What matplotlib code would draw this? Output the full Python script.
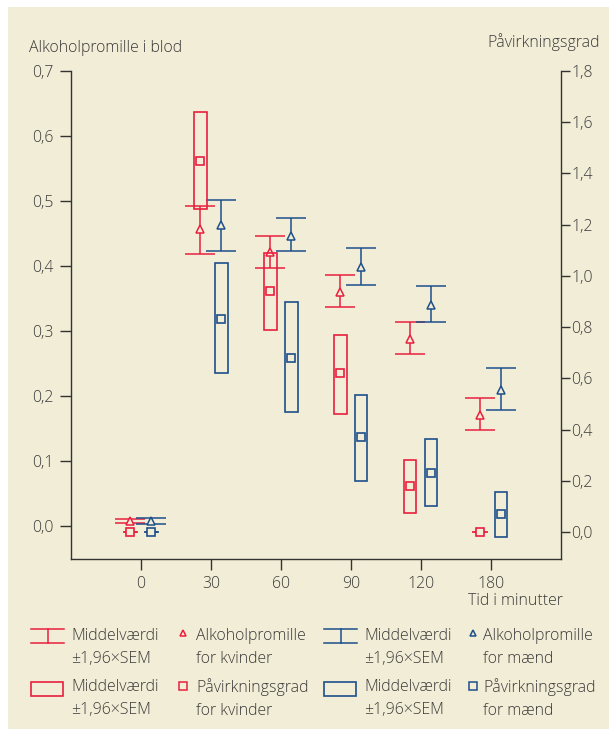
import matplotlib
matplotlib.use("Agg")
import numpy as np
from matplotlib import pyplot as plt
from matplotlib.patches import Rectangle

plt.rcParams['font.family'] = ['Open Sans', 'DejaVu Sans']
plt.rcParams['font.weight'] = 'light'

### data
tider = ["0", "30", "60", "90", "120", "180"]

# alkoholpromille i blod (venstre akse)
prom_kv = [0.008, 0.457, 0.422, 0.360, 0.288, 0.172]
prom_kv_lo = [0.005, 0.419, 0.398, 0.338, 0.265, 0.148]
prom_kv_hi = [0.012, 0.492, 0.446, 0.386, 0.314, 0.198]
prom_m = [0.008, 0.463, 0.446, 0.399, 0.340, 0.210]
prom_m_lo = [0.004, 0.424, 0.423, 0.371, 0.314, 0.179]
prom_m_hi = [0.013, 0.502, 0.474, 0.428, 0.370, 0.243]

# påvirkningsgrad (højre akse)
paav_kv = [0.0, 1.45, 0.94, 0.62, 0.18, 0.0]
paav_kv_lo = [0.0, 1.26, 0.79, 0.46, 0.075, 0.0]
paav_kv_hi = [0.0, 1.64, 1.09, 0.77, 0.28, 0.0]
paav_m = [0.0, 0.83, 0.68, 0.37, 0.23, 0.07]
paav_m_lo = [0.0, 0.62, 0.47, 0.20, 0.10, -0.02]
paav_m_hi = [0.0, 1.05, 0.90, 0.535, 0.365, 0.157]

venstre_ticks = [0.0, 0.1, 0.2, 0.3, 0.4, 0.5, 0.6, 0.7]
hoejre_ticks = [0.0, 0.2, 0.4, 0.6, 0.8, 1.0, 1.2, 1.4, 1.6, 1.8]

bg = "#f2edd6"
rod = "#e8203f"
blaa = "#1d4f8b"
tekst = "#3a3a3a"
fs = 11.4

W, H = 609, 729
fig = plt.figure(figsize=(W / 100, H / 100), dpi=100)
fig.patch.set_facecolor("white")

# baggrund + legende i pixel-koordinater
bax = fig.add_axes([0, 0, 1, 1])
bax.set_zorder(-1)
bax.set_xlim(0, W)
bax.set_ylim(H, 0)
bax.axis("off")
bax.add_patch(Rectangle((8, 7), W - 8, H - 7, facecolor=bg, edgecolor="none"))

ax1 = fig.add_axes([71 / W, 1 - 559 / H, (560.5 - 71) / W, (559 - 71) / H])
ax1.patch.set_visible(False)
ax2 = ax1.twinx()

x = np.arange(len(tider))
dx = 0.15
bw = 0.18

def err(m, lo, hi):
    m = np.array(m); lo = np.array(lo); hi = np.array(hi)
    return [m - lo, hi - m]

for off, m, lo, hi, c in [(-dx, prom_kv, prom_kv_lo, prom_kv_hi, rod),
                          (dx, prom_m, prom_m_lo, prom_m_hi, blaa)]:
    ax1.errorbar(x + off, m, yerr=err(m, lo, hi), fmt="^", ms=6.2, mfc=bg, mec=c,
                 mew=1.1, ecolor=c, elinewidth=1.1, capsize=10.5, capthick=1.1)

for off, m, lo, hi, c in [(-dx, paav_kv, paav_kv_lo, paav_kv_hi, rod),
                          (dx, paav_m, paav_m_lo, paav_m_hi, blaa)]:
    lo = np.array(lo); hi = np.array(hi)
    ax2.bar(x + off, hi - lo, bottom=lo, width=bw,
            fill=False, edgecolor=c, linewidth=1.2)
    # kasser uden højde tegnes som en streg
    flad = hi == lo
    ax2.hlines(lo[flad], x[flad] + off - 0.11, x[flad] + off + 0.11, color=c, lw=1.2)
    ax2.plot(x + off, m, "s", ms=6.3, mfc=bg, mec=c, mew=1.2, ls="none")

ax1.set_xlim(-1, 6)
ax1.set_ylim(-0.05, 0.7)
ax2.set_ylim(-0.105, 1.8)

ax1.set_xticks(x)
ax1.set_xticklabels(tider)
ax1.set_yticks(venstre_ticks)
ax1.set_yticklabels([f"{v:.1f}".replace(".", ",") for v in venstre_ticks])
ax2.set_yticks(hoejre_ticks)
ax2.set_yticklabels([f"{v:.1f}".replace(".", ",") for v in hoejre_ticks])

for a in (ax1, ax2):
    for s in a.spines.values():
        s.set_color("#333333")
        s.set_linewidth(1.0)
    a.spines["top"].set_visible(False)
    a.tick_params(colors="#333333", labelcolor=tekst, labelsize=fs, width=1.0)
ax1.tick_params(axis="y", length=8, pad=4.5)
ax1.tick_params(axis="x", length=8, pad=4)
ax2.tick_params(axis="y", length=6.5, pad=1.5)
ax1.spines["right"].set_visible(False)
ax2.spines["left"].set_visible(False)
ax2.spines["bottom"].set_visible(False)

# aksetitler
bax.text(29, 48, "Alkoholpromille i blod", fontsize=fs, color=tekst, ha="left", va="center")
bax.text(600, 42, "Påvirkningsgrad", fontsize=fs, color=tekst, ha="right", va="center")
bax.text(515, 601, "Tid i minutter", fontsize=fs, color=tekst, ha="center", va="center")

# legende
mid = "Middelværdi\n±1,96×SEM"
for c, x0, xt, xm, xmt, lbl1, lbl2 in [
        (rod, 31, 71, 182.5, 196, "Alkoholpromille\nfor kvinder", "Påvirkningsgrad\nfor kvinder"),
        (blaa, 324, 364, 473, 483, "Alkoholpromille\nfor mænd", "Påvirkningsgrad\nfor mænd")]:
    x1 = x0 + 33
    xc = (x0 + x1) / 2
    bax.plot([x0, x1], [629, 629], color=c, lw=1.1)
    bax.plot([x0, x1], [643, 643], color=c, lw=1.1)
    bax.plot([xc, xc], [629, 643], color=c, lw=1.1)
    bax.add_patch(Rectangle((x0, 682), 32, 14, fill=False, edgecolor=c, lw=1.2))
    bax.plot([xm], [633], "^", ms=5, mfc=bg, mec=c, mew=1.1)
    bax.plot([xm], [686], "s", ms=6, mfc=bg, mec=c, mew=1.1)
    for yt, lbl in [(647.5, mid), (698.5, mid)]:
        bax.text(xt, yt, lbl, fontsize=fs, color=tekst, ha="left", va="center", linespacing=1.55)
    bax.text(xmt, 647.5, lbl1, fontsize=fs, color=tekst, ha="left", va="center", linespacing=1.55)
    bax.text(xmt, 698.5, lbl2, fontsize=fs, color=tekst, ha="left", va="center", linespacing=1.55)

fig.savefig("out.png", dpi=100)
